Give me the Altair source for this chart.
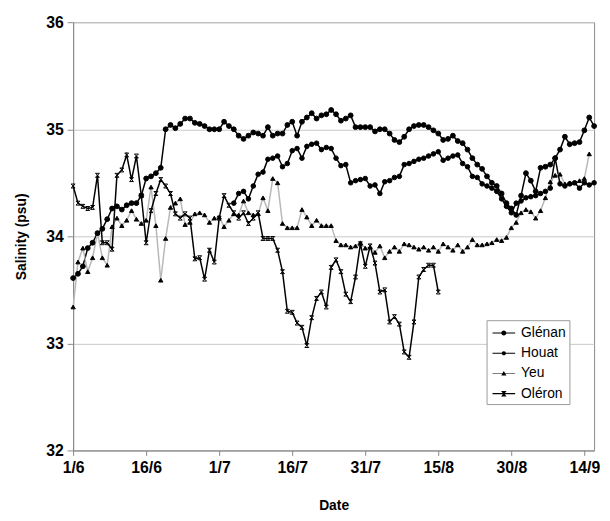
import altair as alt
import pandas as pd

SERIES = ["Glénan", "Houat", "Yeu", "Oléron"]
BASE_DATE = pd.Timestamp("2003-06-01")

# daily salinity values (psu), first value at day offset *_start after 1 June
glenan_start = 0
glenan = [33.61, 33.65, 33.72, 33.89, 33.94, 34.03, 34.07, 34.16, 34.26, 34.28,
          34.25, 34.29, 34.31, 34.31, 34.38, 34.54, 34.56, 34.59, 34.64, 35.00,
          35.04, 35.01, 35.05, 35.10, 35.10, 35.06, 35.05, 35.03, 35.00, 35.00,
          35.00, 35.07, 35.03, 35.00, 34.94, 34.91, 34.94, 34.97, 34.96, 34.94,
          35.02, 34.94, 34.96, 34.96, 35.04, 35.07, 34.94, 35.07, 35.11, 35.15,
          35.10, 35.13, 35.14, 35.18, 35.14, 35.08, 35.10, 35.13, 35.02, 35.02,
          35.02, 35.02, 34.98, 35.00, 35.00, 34.96, 34.90, 34.88, 34.93, 35.00,
          35.03, 35.04, 35.04, 35.02, 34.99, 34.96, 34.90, 34.91, 34.94, 34.89,
          34.87, 34.81, 34.73, 34.67, 34.63, 34.56, 34.50, 34.47, 34.40, 34.31,
          34.26, 34.20, 34.38, 34.59, 34.52, 34.42, 34.64, 34.65, 34.67, 34.73,
          34.81, 34.93, 34.86, 34.87, 34.88, 34.99, 35.11, 35.03]

houat_start = 33
houat = [34.31, 34.40, 34.42, 34.35, 34.47, 34.58, 34.60, 34.72, 34.73, 34.75,
         34.65, 34.68, 34.80, 34.82, 34.73, 34.84, 34.86, 34.87, 34.81, 34.83,
         34.82, 34.73, 34.66, 34.67, 34.50, 34.52, 34.53, 34.54, 34.47, 34.48,
         34.40, 34.51, 34.52, 34.55, 34.56, 34.67, 34.68, 34.70, 34.72, 34.73,
         34.75, 34.77, 34.79, 34.71, 34.73, 34.75, 34.76, 34.68, 34.65, 34.56,
         34.55, 34.49, 34.47, 34.45, 34.42, 34.35, 34.28, 34.22, 34.31, 34.33,
         34.36, 34.37, 34.38, 34.40, 34.42, 34.45, 34.73, 34.49, 34.47, 34.49,
         34.50, 34.45, 34.50, 34.48, 34.50]

yeu_start = 0
yeu = [33.34, 33.76, 33.89, 33.67, 33.80, 34.03, 33.80, 33.73, 34.09, 34.17,
       34.10, 34.15, 34.24, 34.16, 34.12, 34.15, 34.46, 34.10, 33.59, 33.98,
       34.27, 34.31, 34.35, 34.11, 34.13, 34.21, 34.22, 34.20, 34.13, 34.17,
       34.18, 34.09, 34.15, 34.21, 34.20, 34.33, 34.22, 34.20, 34.21, 34.36,
       34.24, 34.54, 34.50, 34.12, 34.08, 34.08, 34.08, 34.25, 34.18, 34.10,
       34.15, 34.10, 34.10, 34.10, 33.96, 33.92, 33.92, 33.90, 33.91, 33.94,
       33.89, 33.90, 33.85, 33.91, 33.80, 33.86, 33.90, 33.86, 33.93, 33.92,
       33.90, 33.88, 33.90, 33.87, 33.90, 33.86, 33.93, 33.90, 33.87, 33.92,
       33.86, 33.90, 33.97, 33.92, 33.92, 33.93, 33.94, 33.97, 33.96, 33.99,
       34.08, 34.13, 34.22, 34.25, 34.23, 34.17, 34.24, 34.36, 34.51, 34.57,
       34.58, 34.49, 34.50, 34.50, 34.52, 34.54, 34.77]

oleron_start = 0
oleron = [34.47, 34.31, 34.28, 34.26, 34.27, 34.57, 33.94, 33.94, 33.88, 34.57,
          34.62, 34.76, 34.53, 34.75, 34.38, 33.94, 34.24, 34.40, 34.53, 34.47,
          34.40, 34.21, 34.17, 34.21, 34.17, 33.79, 33.80, 33.60, 33.87, 33.76,
          34.17, 34.38, 34.29, 34.22, 34.17, 34.22, 34.12, 34.17, 34.22, 33.98,
          33.98, 33.98, 33.87, 33.67, 33.30, 33.29, 33.19, 33.15, 32.98, 33.24,
          33.42, 33.48, 33.34, 33.71, 33.78, 33.67, 33.46, 33.39, 33.62, 33.93,
          33.72, 33.91, 33.75, 33.48, 33.50, 33.20, 33.25, 33.18, 32.92, 32.87,
          33.20, 33.62, 33.69, 33.73, 33.73, 33.48]

# axis ticks: (month, day) and their labels
TICK_MONTH_DAY = [(6, 1), (6, 16), (7, 1), (7, 16), (7, 31), (8, 15), (8, 30), (9, 14)]
TICK_LABELS = ["1/6", "16/6", "1/7", "16/7", "31/7", "15/8", "30/8", "14/9"]
X_END = (9, 16)
Y_TICKS = [32, 33, 34, 35, 36]
Y_DOMAIN = [32, 36]

LINE_COLORS = ["#000000", "#000000", "#b8b8b8", "#000000"]
LINE_WIDTHS = [1.5, 1.5, 1.0, 1.5]
XMARK = "M-1,-1H1M-1,1H1M-1,-1L1,1M1,-1L-1,1"
MARKER_SHAPES = ["circle", "circle", "triangle-up", XMARK]
MARKER_SIZES = [24, 16, 26, 46]

# legend symbols (filled paths, clockwise): thin bar for the line plus the marker
LEG_BAR = "M-0.82,-0.07H1.88V0.07H-0.82Z"
LEG_SYMBOLS = [
    LEG_BAR + "M0.23,0A0.3,0.3 0 1,1 0.83,0A0.3,0.3 0 1,1 0.23,0Z",
    LEG_BAR + "M0.28,0A0.25,0.25 0 1,1 0.78,0A0.25,0.25 0 1,1 0.28,0Z",
    "M-0.82,-0.04H1.88V0.04H-0.82Z" + "M0.53,-0.3L0.84,0.24L0.22,0.24Z",
    LEG_BAR + "M0.2,-0.32H0.86L0.6,0L0.86,0.32H0.2L0.46,0Z",
]

rows = []
for name, start, vals in [("Glénan", glenan_start, glenan), ("Houat", houat_start, houat),
                          ("Yeu", yeu_start, yeu), ("Oléron", oleron_start, oleron)]:
    for i, v in enumerate(vals):
        rows.append({"date": BASE_DATE + pd.Timedelta(days=start + i), "value": v, "series": name})
df = pd.DataFrame(rows)

FONT = "Liberation Sans"

tick_values = [alt.DateTime(year=2003, month=m, date=d) for m, d in TICK_MONTH_DAY]
x_scale = alt.Scale(domain=[alt.DateTime(year=2003, month=6, date=1),
                            alt.DateTime(year=2003, month=X_END[0], date=X_END[1])])
y_scale = alt.Scale(domain=Y_DOMAIN, nice=False, zero=False)

x_axis = alt.Axis(values=tick_values, format="%-d/%-m", title="Date", grid=False,
                  labelFont=FONT, labelFontSize=16, labelFontWeight="bold", labelColor="black",
                  labelPadding=4, tickSize=5, tickColor="#888888", domainColor="#888888",
                  labelFlush=False, labelOverlap=False,
                  titleFont=FONT, titleFontSize=14, titleFontWeight="bold", titleColor="black",
                  titleY=56, titleBaseline="middle")
y_axis = alt.Axis(values=Y_TICKS, format="d", title="Salinity (psu)", grid=True,
                  gridColor="#c8c8c8", gridWidth=1,
                  labelFont=FONT, labelFontSize=16, labelFontWeight="bold", labelColor="black",
                  labelPadding=4, tickSize=6, tickColor="#888888", domainColor="#888888",
                  titleFont=FONT, titleFontSize=14, titleFontWeight="bold", titleColor="black",
                  titleX=-52, titleY=217, titleAngle=-90, titleBaseline="middle", titleAlign="center")

legend = alt.Legend(
    title=None, orient="none", legendX=419, legendY=302, direction="vertical",
    strokeColor="#999999", fillColor="white", padding=3.5,
    labelFont=FONT, labelFontSize=14, labelColor="black", labelOffset=12.5,
    rowPadding=3.5, symbolSize=289, symbolFillColor="black", symbolOpacity=1,
)

base = alt.Chart(df)

lines = base.mark_line().encode(
    x=alt.X("date:T", scale=x_scale, axis=x_axis),
    y=alt.Y("value:Q", scale=y_scale, axis=y_axis),
    color=alt.Color("series:N", scale=alt.Scale(domain=SERIES, range=LINE_COLORS), legend=None),
    strokeWidth=alt.StrokeWidth("series:N", scale=alt.Scale(domain=SERIES, range=LINE_WIDTHS),
                                legend=None),
)

points = base.mark_point(filled=True, fill="black", stroke="black", strokeWidth=1.0,
                         opacity=1).encode(
    x=alt.X("date:T", scale=x_scale),
    y=alt.Y("value:Q", scale=y_scale),
    shape=alt.Shape("series:N", scale=alt.Scale(domain=SERIES, range=MARKER_SHAPES),
                    legend=None),
    size=alt.Size("series:N", scale=alt.Scale(domain=SERIES, range=MARKER_SIZES), legend=None),
)

# legend-carrying layer: same rows shifted out of the (clipped) plot area
legend_layer = base.transform_calculate(off="datum.value + 100").mark_point(
    filled=True, fill="black", size=289, opacity=1, clip=True
).encode(
    x=alt.X("date:T", scale=x_scale),
    y=alt.Y("off:Q", scale=y_scale),
    shape=alt.Shape("series:N", scale=alt.Scale(domain=SERIES, range=LEG_SYMBOLS), legend=legend),
)

chart = alt.layer(lines, points, legend_layer).resolve_scale(
    shape="independent"
).properties(
    width=528, height=434,
    autosize=alt.AutoSizeParams(type="none"),
    padding={"left": 66, "top": 11, "right": 8, "bottom": 60},
    background="white",
).configure_view(stroke="#888888", strokeWidth=1)

chart.save("out.html", embed_options={"renderer": "svg", "actions": False})
